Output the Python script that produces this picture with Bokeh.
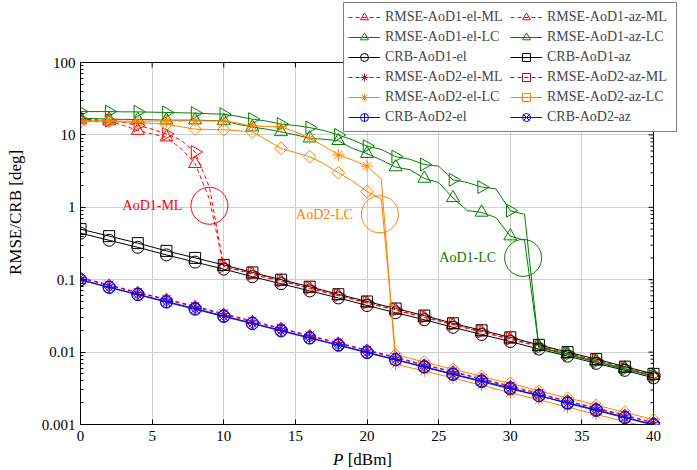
import math
from bokeh.plotting import figure
from bokeh.layouts import column
from bokeh.models import (Legend, LegendItem, FixedTicker, CustomJSTickFormatter,
                          Div, Grid)
from bokeh.core.properties import value
from bokeh.embed import file_html
from bokeh.resources import INLINE

# ---------------- data ----------------
P = list(range(0, 41))          # 1 dB steps (RMSE curves)
P2 = list(range(0, 41, 2))      # 2 dB steps (bounds)

rmse_aod1_el_ml = [16.0, 15.8, 15.5, 13.5, 11.5, 10.3, 9.3, 6.5, 4.0, 1.3,
                   0.151, 0.135, 0.119, 0.106, 0.095, 0.085, 0.0755, 0.067, 0.060, 0.0535,
                   0.0476, 0.0424, 0.0378, 0.0337, 0.030, 0.0267, 0.0238, 0.0212, 0.0189, 0.0168,
                   0.015, 0.0134, 0.0119, 0.0106, 0.0095, 0.0085, 0.0076, 0.0067, 0.006, 0.0053, 0.0048]
rmse_aod1_az_ml = [16.5, 16.2, 15.8, 14.8, 13.5, 12.0, 10.3, 8.5, 5.8, 1.9,
                   0.153, 0.137, 0.122, 0.109, 0.097, 0.086, 0.077, 0.0686, 0.061, 0.0545,
                   0.0485, 0.0432, 0.0385, 0.0343, 0.0306, 0.0273, 0.0243, 0.0216, 0.0193, 0.0172,
                   0.0153, 0.0137, 0.0122, 0.0109, 0.0097, 0.0086, 0.0077, 0.0069, 0.0061, 0.0055, 0.0049]
rmse_aod1_el_lc = [17.0, 16.8, 16.5, 16.4, 16.3, 16.2, 16.0, 16.0, 16.0, 15.8,
                   15.6, 14.0, 12.8, 12.0, 11.0, 10.0, 9.0, 8.7, 8.3, 6.5,
                   5.5, 4.5, 3.6, 3.3, 2.5, 2.2, 1.35, 0.9, 0.85, 0.72,
                   0.40, 0.35, 0.0118, 0.0105, 0.0094, 0.0083, 0.0074, 0.0066, 0.0059, 0.0053, 0.0047]
rmse_aod1_az_lc = [21.0, 21.0, 21.0, 20.8, 20.8, 20.6, 20.4, 20.2, 20.0, 19.6,
                   19.3, 18.0, 16.5, 15.5, 14.1, 13.5, 12.6, 11.5, 10.0, 8.5,
                   7.0, 6.3, 5.0, 4.6, 3.9, 3.7, 2.4, 2.2, 1.9, 1.8,
                   0.9, 0.8, 0.0115, 0.0103, 0.0092, 0.0082, 0.0073, 0.0065, 0.0058, 0.0052, 0.0046]
crb_aod1_el = [0.44, 0.35, 0.28, 0.22, 0.175, 0.14, 0.11, 0.088, 0.07, 0.056, 0.044,
               0.035, 0.028, 0.022, 0.0175, 0.014, 0.011, 0.0088, 0.007, 0.0056, 0.0044]
crb_aod1_az = [0.50, 0.40, 0.32, 0.25, 0.20, 0.16, 0.126, 0.10, 0.08, 0.063, 0.05,
               0.04, 0.032, 0.025, 0.02, 0.016, 0.0126, 0.01, 0.008, 0.0063, 0.005]
rmse_aod2_el_ml = [0.107, 0.085, 0.067, 0.054, 0.043, 0.034, 0.027, 0.0214, 0.017, 0.0135, 0.0107,
                   0.0085, 0.0067, 0.0054, 0.0043, 0.0034, 0.0027, 0.0021, 0.0017, 0.00135, 0.00107]
rmse_aod2_az_ml = [0.105, 0.083, 0.066, 0.053, 0.042, 0.033, 0.026, 0.021, 0.0166, 0.0132, 0.0105,
                   0.0083, 0.0066, 0.0053, 0.0042, 0.0033, 0.0026, 0.0021, 0.00166, 0.00132, 0.00105]
rmse_aod2_el_lc = [15.6, 15.6, 15.6, 15.5, 15.4, 15.5, 15.6, 15.6, 15.6, 15.6,
                   15.6, 14.5, 13.3, 13.1, 12.9, 11.0, 9.0, 7.0, 5.3, 4.5,
                   3.7, 2.45, 0.0068, 0.0061, 0.0055, 0.0049, 0.0044, 0.0039, 0.0035, 0.0031,
                   0.00275, 0.00245, 0.0022, 0.00195, 0.00174, 0.00155, 0.00138, 0.00123, 0.0011, 0.00098, 0.00087]
rmse_aod2_az_lc = [15.1, 15.3, 15.5, 15.1, 14.8, 14.4, 14.0, 13.0, 12.0, 11.9,
                   11.8, 11.4, 11.0, 8.5, 6.5, 5.7, 5.0, 4.0, 3.0, 2.3,
                   1.65, 1.3, 0.0092, 0.0082, 0.0073, 0.0065, 0.0058, 0.0052, 0.0046, 0.0041,
                   0.0037, 0.0033, 0.0029, 0.0026, 0.0023, 0.0021, 0.00185, 0.00165, 0.00147, 0.00131, 0.00117]
crb_aod2_el = [0.1, 0.079, 0.063, 0.05, 0.04, 0.0316, 0.025, 0.02, 0.0158, 0.0126, 0.01,
               0.0079, 0.0063, 0.005, 0.004, 0.0032, 0.0025, 0.002, 0.0016, 0.00126, 0.001]
crb_aod2_az = [0.099, 0.078, 0.062, 0.049, 0.039, 0.031, 0.0247, 0.0196, 0.0156, 0.0124, 0.0098,
               0.0078, 0.0062, 0.0049, 0.0039, 0.0031, 0.0025, 0.00196, 0.00156, 0.00124, 0.00098]

x_ticks = [0, 5, 10, 15, 20, 25, 30, 35, 40]
y_ticks = [0.001, 0.01, 0.1, 1, 10, 100]
X_MIN, X_MAX = 0, 40
Y_MIN, Y_MAX = 0.001, 100

ann_text = ["AoD1-ML", "AoD2-LC", "AoD1-LC"]
ann_x = [9.0, 20.9, 30.9]
ann_y = [1.05, 0.8, 0.2]

# ---------------- layout / styles ----------------
RED, GREEN, BLACK = "#ff0000", "#008000", "#000000"
PURPLE, ORANGE, BLUE = "#bf0040", "#ff8000", "#0000ff"
GRID = "#cfcfcf"
ann_colors = [RED, ORANGE, GREEN]
FONT = "Liberation Serif"

W, H_FIG, H_LBL = 697, 448, 22
BOX_L, BOX_R, BOX_T, BOX_B = 80, 653, 62, 424        # axis box in page pixels
# the plotting frame is extended to the top/right page edges so the legend is not clipped
x_end = X_MAX + (W - BOX_R) * (X_MAX - X_MIN) / (BOX_R - BOX_L)
dec = (BOX_B - BOX_T) / (math.log10(Y_MAX) - math.log10(Y_MIN))
y_end = Y_MAX * 10 ** (BOX_T / dec)

p = figure(width=W, height=H_FIG, x_range=(X_MIN, x_end), y_range=(Y_MIN, y_end),
           y_axis_type="log", output_backend="svg", toolbar_location=None,
           min_border=0, min_border_left=BOX_L, min_border_bottom=H_FIG - BOX_B)
p.outline_line_color = None
p.background_fill_color = "white"

minor = [m * 10.0 ** e for e in range(-3, 2) for m in range(2, 10)]
yticker = FixedTicker(ticks=y_ticks, minor_ticks=minor)
xticker = FixedTicker(ticks=x_ticks)
yfmt = CustomJSTickFormatter(code="""
const e = Math.round(Math.log10(tick));
return e >= 0 ? String(Math.pow(10, e)) : '0.' + '0'.repeat(-e - 1) + '1';
""")

for ax, minor_on in ((p.yaxis[0], True), (p.xaxis[0], False)):
    ax.axis_line_color = BLACK
    ax.major_tick_in = 5
    ax.major_tick_out = 0
    ax.minor_tick_in = 3 if minor_on else 0
    ax.minor_tick_out = 0
    ax.major_tick_line_color = BLACK
    ax.minor_tick_line_color = BLACK
    ax.major_label_text_font = FONT
    ax.major_label_text_font_size = "15px"
    ax.major_label_text_color = BLACK

ya = p.yaxis[0]
ya.ticker = yticker
ya.formatter = yfmt
ya.bounds = (Y_MIN, Y_MAX)
ya.axis_label = "RMSE/CRB [deg]"
ya.axis_label_text_font = FONT
ya.axis_label_text_font_style = "normal"
ya.axis_label_text_font_size = "17px"
ya.axis_label_text_color = BLACK
ya.axis_label_standoff = 14
ya.major_label_standoff = 5

xa = p.xaxis[0]
xa.ticker = xticker
xa.bounds = (X_MIN, X_MAX)
xa.major_label_standoff = 6

# grid lines limited to the axis box
p.xgrid.ticker = xticker
p.ygrid.ticker = FixedTicker(ticks=y_ticks)
if "cross_bounds" in Grid.properties():
    p.xgrid.cross_bounds = (Y_MIN, Y_MAX)
    p.ygrid.cross_bounds = (X_MIN, X_MAX)
    p.xgrid.grid_line_color = GRID
    p.ygrid.grid_line_color = GRID
else:
    p.xgrid.visible = False
    p.ygrid.visible = False
    p.segment(x0=x_ticks, y0=[Y_MIN] * len(x_ticks), x1=x_ticks, y1=[Y_MAX] * len(x_ticks),
              line_color=GRID, line_width=1, level="underlay")
    p.segment(x0=[X_MIN] * len(y_ticks), y0=y_ticks, x1=[X_MAX] * len(y_ticks), y1=y_ticks,
              line_color=GRID, line_width=1, level="underlay")

# top and right sides of the axis box, with inward ticks
p.segment(x0=[X_MIN, X_MAX], y0=[Y_MAX, Y_MIN], x1=[X_MAX, X_MAX], y1=[Y_MAX, Y_MAX],
          line_color=BLACK, line_width=1)
p.ray(x=[X_MAX] * len(y_ticks), y=y_ticks, length=5, length_units="screen",
      angle=math.pi, line_color=BLACK, line_width=1)
p.ray(x=[X_MAX] * len(minor), y=minor, length=3, length_units="screen",
      angle=math.pi, line_color=BLACK, line_width=1)
p.ray(x=x_ticks, y=[Y_MAX] * len(x_ticks), length=5, length_units="screen",
      angle=-math.pi / 2, line_color=BLACK, line_width=1)

items = []

def series(label, x, y, color, marker, dash="solid", angle=0.0, size=11):
    if len(y) == len(P):
        xm, ym = x[::2], y[::2]
    else:
        xm, ym = x, y
    lr = p.line(x, y, line_color=color, line_width=1, line_dash=dash)
    sr = p.scatter(xm, ym, marker=marker, size=size, angle=angle,
                   line_color=color, fill_color=None, line_width=1)
    items.append(LegendItem(label=label, renderers=[lr, sr]))

RT = -math.pi / 2
DI = math.pi / 4
series("RMSE-AoD1-el-ML", P, rmse_aod1_el_ml, RED, "triangle", "4 3", size=13)
series("RMSE-AoD1-az-ML", P, rmse_aod1_az_ml, RED, "triangle", "4 3", angle=RT, size=13)
series("RMSE-AoD1-el-LC", P, rmse_aod1_el_lc, GREEN, "triangle", size=13)
series("RMSE-AoD1-az-LC", P, rmse_aod1_az_lc, GREEN, "triangle", angle=RT, size=13)
series("CRB-AoD1-el", P2, crb_aod1_el, BLACK, "circle", size=12)
series("CRB-AoD1-az", P2, crb_aod1_az, BLACK, "square", size=11)
series("RMSE-AoD2-el-ML", P2, rmse_aod2_el_ml, PURPLE, "asterisk", "4 3", size=12)
series("RMSE-AoD2-az-ML", P2, rmse_aod2_az_ml, PURPLE, "square", "4 3", angle=DI, size=9)
series("RMSE-AoD2-el-LC", P, rmse_aod2_el_lc, ORANGE, "asterisk", size=12)
series("RMSE-AoD2-az-LC", P, rmse_aod2_az_lc, ORANGE, "square", angle=DI, size=9)
series("CRB-AoD2-el", P2, crb_aod2_el, BLUE, "circle_cross", size=12)
series("CRB-AoD2-az", P2, crb_aod2_az, BLUE, "circle_x", size=12)

# annotations
p.scatter(ann_x, ann_y, marker="circle", size=37, fill_color=None,
          line_color=ann_colors, line_width=1)
p.text(ann_x, ann_y, text=ann_text, x_offset=-27, text_align="right",
       text_baseline="middle", text_color=ann_colors,
       text_font=value(FONT), text_font_size=value("14px"))

# legend: top-left corner at page (343, 4); location is its bottom-left corner in frame px
LEG_LEFT, LEG_BOTTOM = 343, 132
legend = Legend(items=items, location=(LEG_LEFT - BOX_L, BOX_B - LEG_BOTTOM),
                orientation="horizontal", ncols=2,
                label_text_font=FONT, label_text_font_size="14px",
                glyph_width=32, glyph_height=20, label_height=20, label_width=125,
                label_standoff=5, spacing=0, padding=4, margin=0,
                border_line_color=BLACK, border_line_width=1,
                background_fill_color="white", background_fill_alpha=1.0)
p.add_layout(legend, "center")

# x-axis title with an italic P
xlabel = Div(text="<i>P</i> [dBm]", width=W, height=H_LBL, margin=(0, 0, 0, 0),
             styles={"font-family": FONT, "font-size": "17px", "color": BLACK,
                     "padding-left": "333px", "padding-top": "3px", "line-height": "17px"})

page = column(p, xlabel, spacing=0)
open("out.html", "w").write(file_html(page, INLINE))
